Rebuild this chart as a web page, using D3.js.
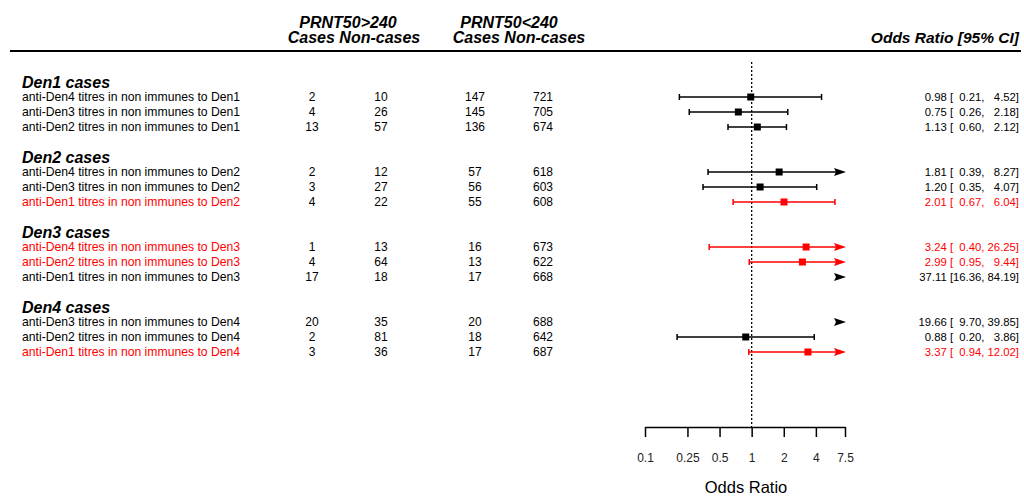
<!DOCTYPE html>
<html lang="en">
<head>
<meta charset="UTF-8">
<title>Forest plot - dengue PRNT50 titres</title>
<script src="https://d3js.org/d3.v7.min.js"></script>
<style>
  body { margin: 0; background: #fff; }
  svg { display: block; font-family: 'Liberation Sans', Arial, sans-serif; }
  text { white-space: pre; }
</style>
</head>
<body>
<svg id="chart" width="1024" height="496"></svg>
<script>
// ---- data ----
var groups = ["Den1 cases", "Den2 cases", "Den3 cases", "Den4 cases"];
var rowLabels = [
  "anti-Den4 titres in non immunes to Den1",
  "anti-Den3 titres in non immunes to Den1",
  "anti-Den2 titres in non immunes to Den1",
  "anti-Den4 titres in non immunes to Den2",
  "anti-Den3 titres in non immunes to Den2",
  "anti-Den1 titres in non immunes to Den2",
  "anti-Den4 titres in non immunes to Den3",
  "anti-Den2 titres in non immunes to Den3",
  "anti-Den1 titres in non immunes to Den3",
  "anti-Den3 titres in non immunes to Den4",
  "anti-Den2 titres in non immunes to Den4",
  "anti-Den1 titres in non immunes to Den4"
];
var rowGroup = [0, 0, 0, 1, 1, 1, 2, 2, 2, 3, 3, 3];
var rowRed   = [false, false, false, false, false, true, true, true, false, false, false, true];
var casesHigh    = [2, 4, 13, 2, 3, 4, 1, 4, 17, 20, 2, 3];
var noncasesHigh = [10, 26, 57, 12, 27, 22, 13, 64, 18, 35, 81, 36];
var casesLow     = [147, 145, 136, 57, 56, 55, 16, 13, 17, 20, 18, 17];
var noncasesLow  = [721, 705, 674, 618, 603, 608, 673, 622, 668, 688, 642, 687];
var oddsRatio = [0.98, 0.75, 1.13, 1.81, 1.20, 2.01, 3.24, 2.99, 37.11, 19.66, 0.88, 3.37];
var ciLow     = [0.21, 0.26, 0.60, 0.39, 0.35, 0.67, 0.40, 0.95, 16.36, 9.70, 0.20, 0.94];
var ciHigh    = [4.52, 2.18, 2.12, 8.27, 4.07, 6.04, 26.25, 9.44, 84.19, 39.85, 3.86, 12.02];
var axisTicks = [0.1, 0.25, 0.5, 1, 2, 4, 7.5];

// ---- layout ----
var svg = d3.select("#chart");
var x = d3.scaleLog().domain([0.1, 7.5]).range([645, 845]);
var slot = d3.scaleLinear().domain([0, 18]).range([82, 352]);
function rowSlot(i) {
  var g = rowGroup[i];
  var j = rowGroup.slice(0, i).filter(function(d) { return d === g; }).length;
  return 5 * g + 1 + j;
}
function col(i) { return rowRed[i] ? "#ff0000" : "#000"; }

var rows = rowLabels.map(function(d, i) {
  return { label: d, i: i, y: slot(rowSlot(i)) };
});

// header
var hdr = svg.append("g").attr("font-weight", "bold").attr("font-style", "italic")
  .attr("font-size", 16).attr("fill", "#000");
hdr.append("text").attr("x", 348).attr("y", 28).attr("text-anchor", "middle").text("PRNT50>240");
hdr.append("text").attr("x", 354).attr("y", 43).attr("text-anchor", "middle").text("Cases Non-cases");
hdr.append("text").attr("x", 509).attr("y", 28).attr("text-anchor", "middle").text("PRNT50<240");
hdr.append("text").attr("x", 519).attr("y", 43).attr("text-anchor", "middle").text("Cases Non-cases");
hdr.append("text").attr("x", 1019).attr("y", 43).attr("text-anchor", "end").attr("font-size", 15.5)
  .text("Odds Ratio [95% CI]");
svg.append("line").attr("x1", 10).attr("x2", 1021).attr("y1", 51).attr("y2", 51)
  .attr("stroke", "#000").attr("stroke-width", 2);

// group titles
svg.selectAll("text.group").data(groups).enter().append("text")
  .attr("class", "group")
  .attr("x", 22).attr("y", function(d, g) { return slot(5 * g); })
  .attr("dy", "0.35em")
  .attr("font-size", 16).attr("font-weight", "bold").attr("font-style", "italic")
  .text(function(d) { return d; });

// table text
var cols = [
  { x: 22, anchor: "start", size: 12.2, val: function(r) { return r.label; }, red: true },
  { x: 312, anchor: "middle", size: 12, val: function(r) { return casesHigh[r.i]; } },
  { x: 381, anchor: "middle", size: 12, val: function(r) { return noncasesHigh[r.i]; } },
  { x: 475, anchor: "middle", size: 12, val: function(r) { return casesLow[r.i]; } },
  { x: 543, anchor: "middle", size: 12, val: function(r) { return noncasesLow[r.i]; } }
];
cols.forEach(function(c) {
  svg.append("g").selectAll("text").data(rows).enter().append("text")
    .attr("x", c.x).attr("y", function(r) { return r.y; }).attr("dy", "0.35em")
    .attr("text-anchor", c.anchor).attr("font-size", c.size)
    .attr("fill", function(r) { return c.red ? col(r.i) : "#000"; })
    .text(c.val);
});

// pad with a figure space so the numbers line up like the original
function pad(v) { var s = v.toFixed(2); return s.length < 5 ? "\u2007" + s : s; }
svg.append("g").selectAll("text").data(rows).enter().append("text")
  .attr("x", 1019).attr("y", function(r) { return r.y; }).attr("dy", "0.35em")
  .attr("text-anchor", "end").attr("font-size", 11.3)
  .attr("fill", function(r) { return col(r.i); })
  .text(function(r) {
    return oddsRatio[r.i].toFixed(2) + " [" + pad(ciLow[r.i]) + ", " + pad(ciHigh[r.i]) + "]";
  });

// reference line at OR = 1
svg.append("line").attr("x1", x(1)).attr("x2", x(1)).attr("y1", 62).attr("y2", 427)
  .attr("stroke", "#000").attr("stroke-width", 1.3).attr("stroke-dasharray", "2,2");

// intervals
var xmax = x.domain()[1];
var plot = svg.append("g");
rows.forEach(function(r) {
  var i = r.i, c = col(i), y = r.y;
  var g = plot.append("g").attr("stroke", c).attr("fill", c);
  var lo = ciLow[i], hi = ciHigh[i];
  var tip = x(xmax) + 1;
  if (lo < xmax) {
    var x1 = x(lo), x2 = hi > xmax ? tip - 10 : x(hi);
    g.append("line").attr("x1", x1).attr("x2", x2).attr("y1", y).attr("y2", y).attr("stroke-width", 1.5);
    g.append("line").attr("x1", x1).attr("x2", x1).attr("y1", y - 3).attr("y2", y + 3).attr("stroke-width", 1.5);
    if (hi <= xmax) {
      g.append("line").attr("x1", x2).attr("x2", x2).attr("y1", y - 3).attr("y2", y + 3).attr("stroke-width", 1.5);
    }
  }
  if (hi > xmax) {
    g.append("path").attr("stroke", "none")
      .attr("d", "M" + (tip - 12) + "," + (y - 4) + "L" + tip + "," + y + "L" + (tip - 12) + "," + (y + 4) + "L" + (tip - 10) + "," + y + "Z");
  }
  if (oddsRatio[i] <= xmax) {
    g.append("rect").attr("stroke", "none")
      .attr("x", x(oddsRatio[i]) - 3.5).attr("y", y - 3.5).attr("width", 7).attr("height", 7);
  }
});

// axis
var axis = d3.axisBottom(x).tickValues(axisTicks).tickSize(10).tickSizeOuter(0).tickPadding(16)
  .tickFormat(function(d) { return String(d); });
var ag = svg.append("g").attr("transform", "translate(0,427)").call(axis);
ag.select(".domain").attr("stroke-width", 1.5);
ag.selectAll(".tick line").attr("stroke-width", 1.5);
ag.selectAll(".tick text").attr("font-size", 12).attr("font-family", "'Liberation Sans', Arial, sans-serif").attr("fill", "#222");
svg.append("text").attr("x", 746).attr("y", 493).attr("text-anchor", "middle")
  .attr("font-size", 16.5).text("Odds Ratio");
</script>
</body>
</html>
